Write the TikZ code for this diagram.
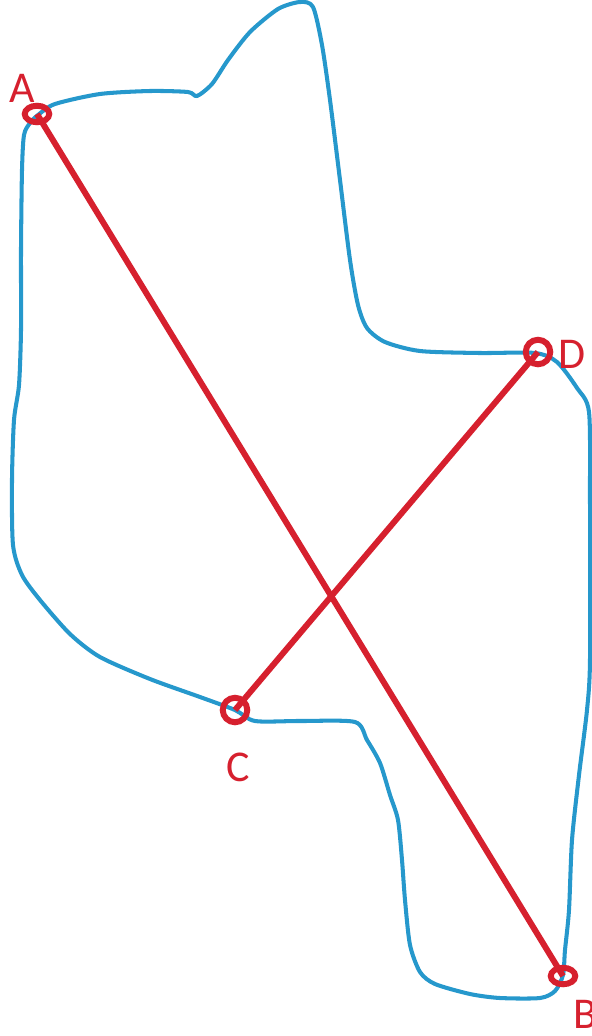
\documentclass[tikz,border=0pt]{standalone}
\usepackage{fontspec}
\setmainfont{Carlito}
\usetikzlibrary{shapes.geometric}
\begin{document}
\begin{tikzpicture}[x=0.01cm, y=-0.01cm]
    % Màu đỏ và màu xanh
    \definecolor{myred}{RGB}{214, 32, 46}
    \definecolor{myblue}{RGB}{38, 152, 204}
    \tikzset{
        vong/.style={ellipse, draw=myred, line width=1.7pt, inner sep=0pt,
            minimum width=0.245cm, minimum height=0.165cm},
        tron/.style={circle, draw=myred, line width=1.7pt, inner sep=0pt,
            minimum size=0.245cm},
        nhan/.style={text=myred, font=\fontsize{12.5}{14}\selectfont, inner sep=0pt}
    }

    % Khung hình
    \useasboundingbox (0, 0) rectangle (592, 1036);

    % Đường viền vẽ tay
    \draw[myblue, line width=1.15pt, line join=round] plot[smooth cycle, tension=0.45] coordinates {
        (38,115) (55,104) (100,94) (150,91) (188,92) (197,96) (212,84) (228,60)
        (250,32) (278,9) (300,2) (313,7) (322,45) (330,100) (340,180) (350,260)
        (358,305) (367,328) (385,342) (420,351) (480,353) (535,353)
        (557,362) (577,388) (589,412) (590,500) (590,660) (587,710) (579,775)
        (572,840) (569,910) (565,950) (563,975)
        (555,991) (540,998) (500,998) (470,994) (435,984) (420,972) (410,945)
        (405,900) (402,860) (398,820) (390,795) (380,763) (367,740) (355,722)
        (300,721) (255,721) (235,710)
        (200,697) (150,679) (100,657) (70,634) (40,600) (22,575) (13,545)
        (12,480) (14,420) (19,385) (21,330) (21,250) (22,170) (24,135) (30,123)};

    % Các điểm A, B, C, D
    \node[vong] (A) at (37, 114) {};
    \node[vong] (B) at (563, 976) {};
    \node[tron] (C) at (235, 710) {};
    \node[tron] (D) at (538, 352) {};

    % Hai đoạn thẳng AB và CD
    \draw[myred, line width=1.7pt] (A.center) -- (B.center);
    \draw[myred, line width=1.7pt] (C.center) -- (D.center);

    % Tên các điểm
    \node[nhan] (labA) at (22, 88) {A};
    \node[nhan] (labB) at (585, 1014) {B};
    \node[nhan] (labC) at (238, 767) {C};
    \node[nhan] (labD) at (572, 354) {D};

\end{tikzpicture}
\end{document}
